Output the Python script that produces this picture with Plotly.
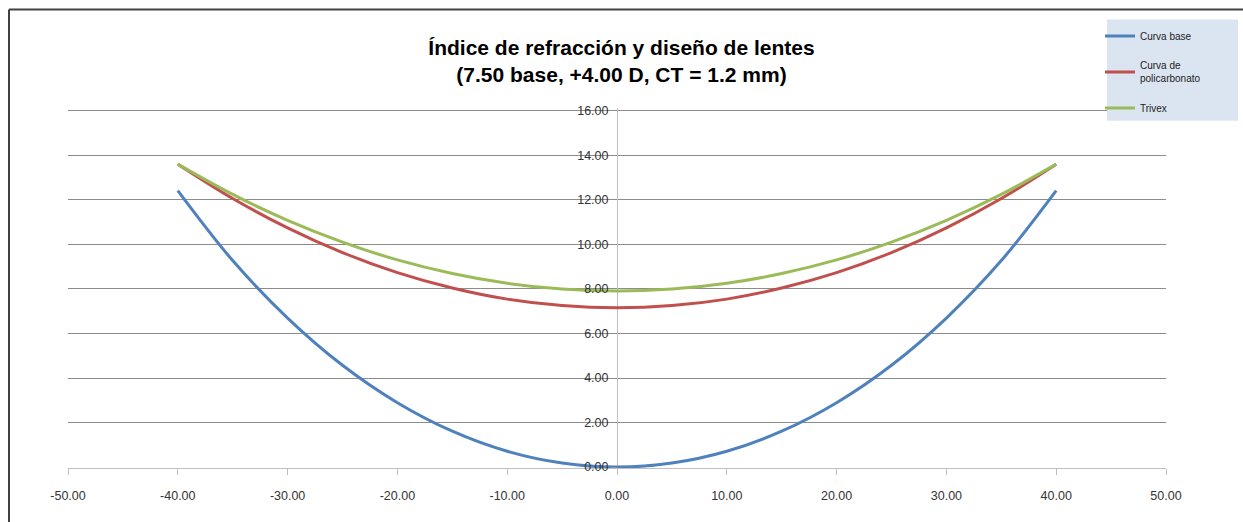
import plotly.graph_objects as go

# Data
x_mm = [-40, -35, -30, -25, -20, -15, -10, -5, 0, 5, 10, 15, 20, 25, 30, 35, 40]
curva_base = [12.41, 9.27, 6.69, 4.57, 2.89, 1.61, 0.71, 0.18, 0.00,
              0.18, 0.71, 1.61, 2.89, 4.57, 6.69, 9.27, 12.41]
policarbonato = [13.60, 12.06, 10.74, 9.63, 8.73, 8.04, 7.54, 7.25, 7.15,
                 7.25, 7.54, 8.04, 8.73, 9.63, 10.74, 12.06, 13.60]
trivex = [13.60, 12.24, 11.08, 10.10, 9.30, 8.69, 8.25, 7.99, 7.90,
          7.99, 8.25, 8.69, 9.30, 10.10, 11.08, 12.24, 13.60]

series_names = ["Curva base", "Curva de<br>policarbonato", "Trivex"]
series_colors = ["#4f81bd", "#c0504d", "#9bbb59"]

x_ticks = [-50, -40, -30, -20, -10, 0, 10, 20, 30, 40, 50]
x_tick_text = ["-50.00", "-40.00", "-30.00", "-20.00", "-10.00", "0.00",
               "10.00", "20.00", "30.00", "40.00", "50.00"]
y_ticks = [0, 2, 4, 6, 8, 10, 12, 14, 16]
y_tick_text = ["0.00", "2.00", "4.00", "6.00", "8.00", "10.00", "12.00", "14.00", "16.00"]

W, H = 1243, 522
Y_LO, Y_HI = -0.04, 16.12
PX_PER_UNIT = (467 - 111) / 16.0
T = 111 - (Y_HI - 16) * PX_PER_UNIT
B = H - (467 - Y_LO * PX_PER_UNIT)
L, R = 68, 77

fig = go.Figure()
for i, (name, ys, col) in enumerate(zip(series_names, [curva_base, policarbonato, trivex], series_colors)):
    fig.add_trace(go.Scatter(x=x_mm, y=ys, mode="lines", name=name,
                             line=dict(color=col, width=3, shape="spline", smoothing=1.0),
                             legendgroup=f"g{i}"))

tick_font = dict(family="Liberation Sans", size=12.5, color="#333333")

def px_x(p):
    return (p - L) / (W - L - R)

def px_y(p):
    return (H - B - p) / (H - T - B)

fig.update_layout(
    width=W, height=H,
    margin=dict(l=L, r=R, t=T, b=B),
    paper_bgcolor="white", plot_bgcolor="white",
    title=dict(text="<b>Índice de refracción y diseño de lentes<br>(7.50 base, +4.00 D, CT = 1.2 mm)</b>",
               x=621.5 / W, xref="container", xanchor="center",
               y=1 - 55 / H, yref="container", yanchor="middle",
               font=dict(family="Liberation Sans", size=21, color="black")),
    xaxis=dict(range=[-50, 50], tickvals=x_ticks, ticktext=x_tick_text,
               showgrid=False, showline=True, linecolor="#bfbfbf", linewidth=1,
               ticks="outside", ticklen=6, tickcolor="#bfbfbf",
               ticklabelstandoff=10,
               zeroline=True, zerolinecolor="#bfbfbf", zerolinewidth=1,
               tickfont=tick_font, fixedrange=True),
    yaxis=dict(range=[Y_LO, Y_HI], tickvals=y_ticks, ticktext=y_tick_text,
               anchor="free", position=0.5, side="left",
               showgrid=True, gridcolor="#8c8c8c", gridwidth=1,
               showline=False, zeroline=False,
               ticks="outside", ticklen=6, tickcolor="#8c8c8c",
               tickfont=tick_font, fixedrange=True),
    legend=dict(x=px_x(1100), y=px_y(22), xanchor="left", yanchor="top",
                bgcolor="rgba(0,0,0,0)", font=dict(family="Liberation Sans", size=10, color="#222222"),
                traceorder="grouped", tracegroupgap=12, itemwidth=30),
    showlegend=True,
    shapes=[
        dict(type="rect", xref="paper", yref="paper",
             x0=px_x(1107), x1=px_x(1238), y0=px_y(121), y1=px_y(20),
             fillcolor="#dbe5f1", line=dict(width=0), layer="above"),
        dict(type="line", xref="paper", yref="paper",
             x0=px_x(9), x1=px_x(9), y0=px_y(10), y1=px_y(H + 5),
             line=dict(color="#404040", width=2)),
        dict(type="line", xref="paper", yref="paper",
             x0=px_x(9), x1=px_x(W + 5), y0=px_y(10), y1=px_y(10),
             line=dict(color="#404040", width=2)),
    ],
)

fig.write_html("out.html")
